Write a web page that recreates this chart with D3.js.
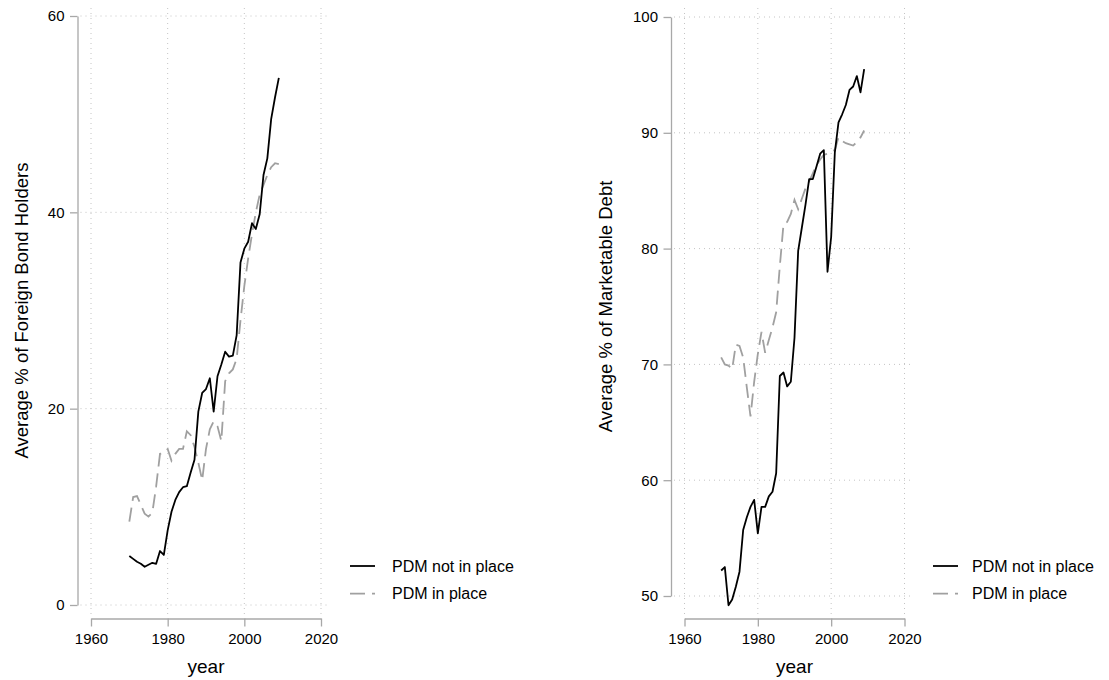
<!DOCTYPE html>
<html>
<head>
<meta charset="utf-8">
<script src="https://cdn.jsdelivr.net/npm/d3@7"></script>
<style>
  body { margin: 0; background: #fff; }
  text { font-family: "Liberation Sans", Arial, Helvetica, sans-serif; fill: #000; }
</style>
</head>
<body>
<div id="chart"></div>
<script>
// years of observation
var years = [1970, 1971, 1972, 1973, 1974, 1975, 1976, 1977, 1978, 1979,
             1980, 1981, 1982, 1983, 1984, 1985, 1986, 1987, 1988, 1989,
             1990, 1991, 1992, 1993, 1994, 1995, 1996, 1997, 1998, 1999,
             2000, 2001, 2002, 2003, 2004, 2005, 2006, 2007, 2008, 2009]

// left panel: average % of foreign bond holders
var foreignNotInPlace = [5.0, 4.7, 4.4, 4.2, 3.9, 4.1, 4.3, 4.2, 5.5, 5.1,
                         7.6, 9.5, 10.7, 11.5, 12.0, 12.1, 13.5, 14.8, 19.7, 21.6,
                         22.0, 23.1, 19.7, 23.3, 24.5, 25.8, 25.3, 25.4, 27.5, 34.9,
                         36.3, 37.0, 38.9, 38.3, 39.8, 43.8, 45.5, 49.5, 51.7, 53.7]
var foreignInPlace = [8.5, 11.0, 11.1, 10.2, 9.3, 9.0, 9.4, 12.1, 15.4, 15.5,
                      15.9, 14.7, 15.4, 15.9, 15.9, 17.7, 17.3, 16.1, 14.5, 12.7,
                      15.9, 17.9, 18.7, 18.2, 16.7, 22.8, 23.6, 24.0, 25.1, 29.0,
                      32.5, 35.3, 37.8, 40.0, 41.8, 42.8, 43.8, 44.6, 45.0, 44.9]

// right panel: average % of marketable debt
var marketNotInPlace = [52.2, 52.5, 49.2, 49.7, 50.8, 52.1, 55.7, 56.8, 57.7, 58.3,
                        55.4, 57.7, 57.7, 58.6, 59.0, 60.6, 69.0, 69.3, 68.1, 68.5,
                        72.3, 79.8, 81.8, 83.8, 86.0, 86.0, 87.1, 88.2, 88.5, 78.0,
                        81.0, 88.3, 90.9, 91.6, 92.4, 93.7, 94.0, 94.9, 93.5, 95.5]
var marketInPlace = [70.6, 70.0, 69.9, 69.6, 71.7, 71.6, 70.6, 68.0, 65.5, 68.5,
                     70.9, 72.8, 71.0, 72.1, 73.2, 74.5, 78.5, 82.1, 82.3, 83.0,
                     84.2, 83.4, 84.3, 85.2, 85.8, 86.5, 87.2, 87.7, 88.1, 88.2,
                     88.4, 88.5, 89.6, 89.3, 89.1, 89.0, 88.9, 89.2, 89.6, 90.2]

var xTicks = [1960, 1980, 2000, 2020]
var yTicksLeft = [0, 20, 40, 60]
var yTicksRight = [50, 60, 70, 80, 90, 100]
var seriesNames = ['PDM not in place', 'PDM in place']

var W = 1109, H = 680
var svg = d3.select('#chart').append('svg')
  .attr('width', W).attr('height', H)

function panel(cfg) {
  var g = svg.append('g')
  var x = d3.scaleLinear().domain([1960, 2020]).range([cfg.x0, cfg.x1])
  var y = d3.scaleLinear().domain(cfg.yDomain).range([cfg.yBottom, cfg.yTop])

  // dotted grid
  g.selectAll('.hgrid').data(cfg.yTicks).enter().append('line')
    .attr('x1', cfg.axisX + 3).attr('x2', cfg.regionRight)
    .attr('y1', function(d){ return y(d) }).attr('y2', function(d){ return y(d) })
    .attr('stroke', '#c4c4c4').attr('stroke-width', 1).attr('stroke-dasharray', '1,4')
  g.selectAll('.vgrid').data(xTicks).enter().append('line')
    .attr('x1', function(d){ return x(d) }).attr('x2', function(d){ return x(d) })
    .attr('y1', 8).attr('y2', cfg.axisY - 2)
    .attr('stroke', '#c4c4c4').attr('stroke-width', 1).attr('stroke-dasharray', '1,4')

  // axes
  var ya = g.append('g').attr('transform', 'translate(' + cfg.axisX + ',0)')
    .call(d3.axisLeft(y).tickValues(cfg.yTicks).tickSize(7.5).tickSizeOuter(0).tickPadding(5.5))
  var xa = g.append('g').attr('transform', 'translate(0,' + cfg.axisY + ')')
    .call(d3.axisBottom(x).tickValues(xTicks).tickSize(8).tickSizeOuter(0).tickPadding(7).tickFormat(d3.format('d')))
  ;[ya, xa].forEach(function(a){
    a.select('.domain').attr('stroke', '#a8a8a8').attr('stroke-width', 1.3)
    a.selectAll('.tick line').attr('stroke', '#a8a8a8').attr('stroke-width', 1.3)
    a.selectAll('.tick text').style('font-size', '15px').attr('fill', '#000')
  })

  // titles
  g.append('text')
    .attr('transform', 'translate(' + cfg.titleX + ',' + ((cfg.yTop + cfg.yBottom) / 2) + ') rotate(-90)')
    .attr('text-anchor', 'middle').attr('dy', '0.35em')
    .style('font-size', '18.5px').text(cfg.yTitle)
  g.append('text')
    .attr('x', (cfg.x0 + cfg.x1) / 2).attr('y', 666)
    .attr('text-anchor', 'middle').attr('dy', '0.35em')
    .style('font-size', '19px').text('year')

  // lines
  var line = d3.line()
    .x(function(d){ return x(d[0]) })
    .y(function(d){ return y(d[1]) })
  g.append('path')
    .datum(d3.zip(years, cfg.inPlace))
    .attr('d', line).attr('fill', 'none')
    .attr('stroke', '#a0a0a0').attr('stroke-width', 1.8)
    .attr('stroke-dasharray', '14,7')
  g.append('path')
    .datum(d3.zip(years, cfg.notInPlace))
    .attr('d', line).attr('fill', 'none')
    .attr('stroke', '#000').attr('stroke-width', 1.8)
    .attr('stroke-linejoin', 'round')

  // legend
  var lg = g.append('g').attr('transform', 'translate(' + cfg.legendX + ',566)')
  lg.selectAll('line').data(seriesNames).enter().append('line')
    .attr('x1', 0).attr('x2', 25)
    .attr('y1', function(d, i){ return i * 27.6 }).attr('y2', function(d, i){ return i * 27.6 })
    .attr('stroke', function(d, i){ return i ? '#a0a0a0' : '#000' })
    .attr('stroke-width', 1.8)
    .attr('stroke-dasharray', function(d, i){ return i ? '15,7' : null })
  lg.selectAll('text').data(seriesNames).enter().append('text')
    .attr('x', cfg.legendGap).attr('y', function(d, i){ return i * 27.6 })
    .attr('dy', '0.35em').style('font-size', '16px')
    .text(function(d){ return d })
}

panel({
  x0: 91, x1: 321, yDomain: [0, 60], yTop: 16, yBottom: 605,
  yTicks: yTicksLeft, axisX: 77.5, axisY: 618.5, regionRight: 330,
  titleX: 22, yTitle: 'Average % of Foreign Bond Holders',
  notInPlace: foreignNotInPlace, inPlace: foreignInPlace, legendX: 350, legendGap: 42
})
panel({
  x0: 684.5, x1: 904.5, yDomain: [50, 100], yTop: 17, yBottom: 596,
  yTicks: yTicksRight, axisX: 671, axisY: 618.5, regionRight: 913,
  titleX: 606, yTitle: 'Average % of Marketable Debt',
  notInPlace: marketNotInPlace, inPlace: marketInPlace, legendX: 933, legendGap: 39
})
</script>
</body>
</html>
